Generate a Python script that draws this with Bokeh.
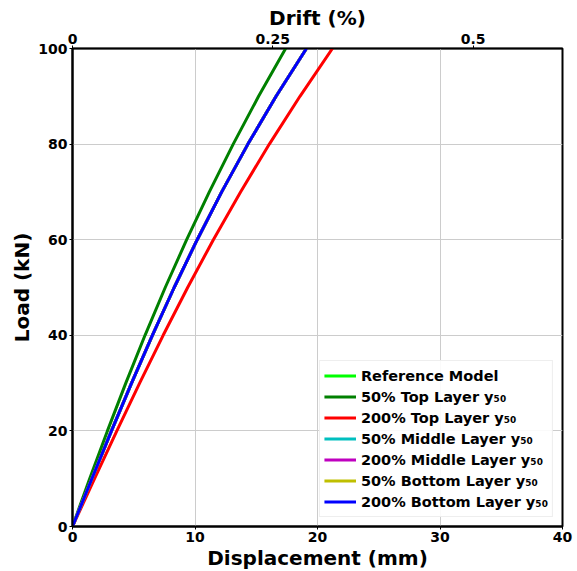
from bokeh.plotting import figure
from bokeh.models import Range1d, LinearAxis, FixedTicker, Legend, LegendItem
from bokeh.embed import file_html
from bokeh.resources import INLINE

# Data
load_kn = [0, 10, 20, 30, 40, 50, 60, 70, 80, 90, 100]
disp_50_top = [0, 1.40, 2.85, 4.35, 5.92, 7.57, 9.32, 11.17, 13.12, 15.19, 17.40]
disp_200_top = [0, 1.80, 3.62, 5.48, 7.40, 9.40, 11.50, 13.72, 16.07, 18.57, 21.22]
disp_200_bottom = [0, 1.58, 3.18, 4.82, 6.52, 8.30, 10.18, 12.18, 14.32, 16.62, 19.10]
# curves hidden beneath the 200% bottom curve
disp_reference = list(disp_200_bottom)
disp_50_middle = list(disp_200_bottom)
disp_200_middle = list(disp_200_bottom)
disp_50_bottom = list(disp_200_bottom)

series_names = ["Reference Model", "50% Top Layer y\u2085\u2080", "200% Top Layer y\u2085\u2080",
                "50% Middle Layer y\u2085\u2080", "200% Middle Layer y\u2085\u2080",
                "50% Bottom Layer y\u2085\u2080", "200% Bottom Layer y\u2085\u2080"]
series_disp = [disp_reference, disp_50_top, disp_200_top, disp_50_middle,
               disp_200_middle, disp_50_bottom, disp_200_bottom]
series_colors = ["#00ff00", "#008000", "#ff0000", "#00bfbf", "#bf00bf", "#bfbf00", "#0000ff"]

x_ticks = [0, 10, 20, 30, 40]
y_ticks = [0, 20, 40, 60, 80, 100]
drift_ticks = [0, 0.25, 0.5]
drift_labels = {0: "0", 0.25: "0.25", 0.5: "0.5"}
story_height_mm = 6540.0

FONT = "DejaVu Sans"

p = figure(width=577, height=571, output_backend="svg", toolbar_location=None,
           x_range=Range1d(0, 40), y_range=Range1d(0, 100),
           min_border_left=72, min_border_right=15, min_border_top=48, min_border_bottom=45,
           frame_width=490, frame_height=478,
           x_axis_label="Displacement (mm)", y_axis_label="Load (kN)")
p.background_fill_color = "white"
p.border_fill_color = "white"
p.outline_line_color = "black"
p.outline_line_width = 2

bottom = p.below[0]
left = p.left[0]
bottom.ticker = FixedTicker(ticks=x_ticks)
left.ticker = FixedTicker(ticks=y_ticks)

p.extra_x_ranges = {"drift": Range1d(0, 40 / story_height_mm * 100)}
top = LinearAxis(x_range_name="drift", axis_label="Drift (%)")
top.ticker = FixedTicker(ticks=drift_ticks)
top.major_label_overrides = drift_labels
p.add_layout(top, "above")

for ax in [bottom, left, top]:
    ax.axis_line_color = "black"
    ax.axis_line_width = 2
    ax.major_tick_line_color = "black"
    ax.major_tick_out = 3
    ax.major_tick_in = 0
    ax.minor_tick_line_color = None
    ax.major_label_text_font = FONT
    ax.major_label_text_font_style = "bold"
    ax.major_label_text_font_size = "14px"
    ax.major_label_text_color = "black"
    ax.major_label_standoff = 2
    ax.axis_label_text_font = FONT
    ax.axis_label_text_font_style = "bold"
    ax.axis_label_text_font_size = "20px"
    ax.axis_label_text_color = "black"
    ax.axis_label_standoff = 1
top.axis_line_width = 1.5

p.xgrid.ticker = FixedTicker(ticks=x_ticks)
p.ygrid.ticker = FixedTicker(ticks=y_ticks)
p.grid.grid_line_color = "#cccccc"
p.grid.grid_line_width = 1

items = []
for name, xs, col in zip(series_names, series_disp, series_colors):
    r = p.line(xs, load_kn, line_color=col, line_width=3)
    items.append(LegendItem(label=name, renderers=[r]))

legend = Legend(items=items, location="bottom_right")
legend.label_text_font = FONT
legend.label_text_font_style = "bold"
legend.label_text_font_size = "14.5px"
legend.label_text_color = "black"
legend.spacing = 0
legend.label_height = 21
legend.glyph_height = 21
legend.glyph_width = 32
legend.padding = 4
legend.margin = 9
legend.border_line_color = "#dddddd"
legend.border_line_width = 1
legend.background_fill_color = "white"
legend.background_fill_alpha = 0.9
p.add_layout(legend)

open("out.html", "w").write(file_html(p, INLINE))
